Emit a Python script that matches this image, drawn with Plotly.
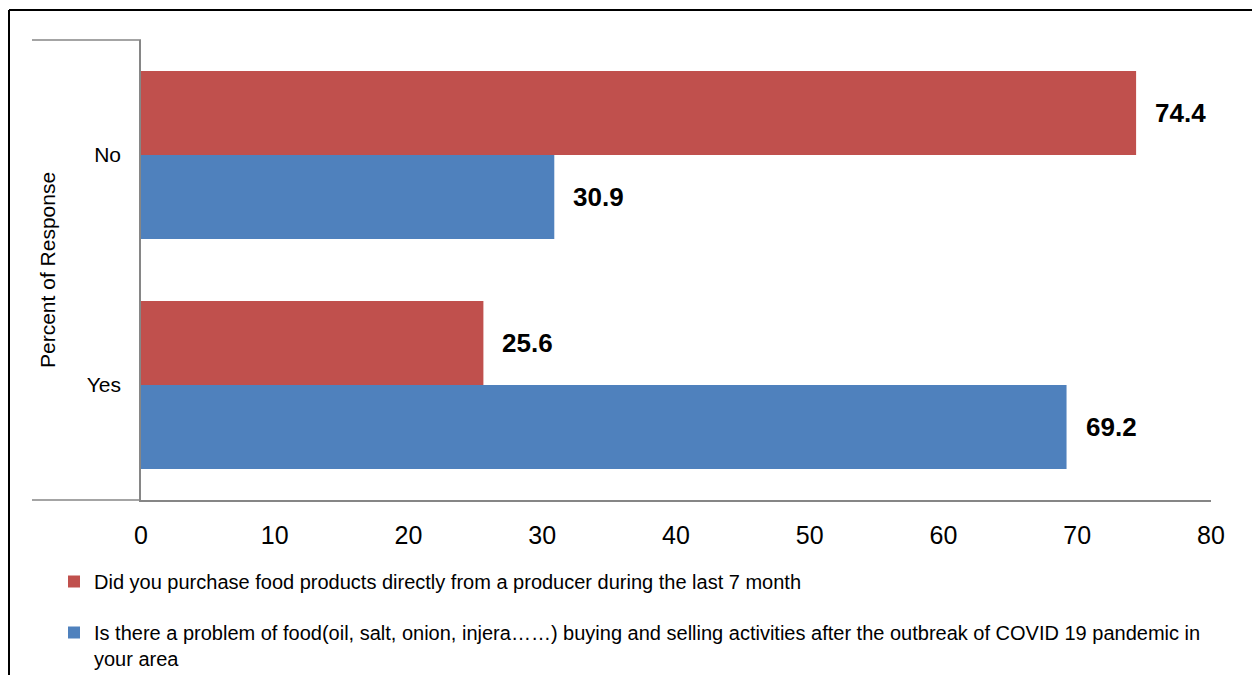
import plotly.graph_objects as go

categories = ["Yes", "No"]
series_names = [
    "Is there a problem of food(oil, salt, onion, injera……) buying and selling activities after the outbreak of COVID 19 pandemic in<br>your area",
    "Did you purchase food products directly from a producer during the last 7 month",
]
blue_values = [69.2, 30.9]
red_values = [25.6, 74.4]
x_ticks = [0, 10, 20, 30, 40, 50, 60, 70, 80]

BLUE = "#4F81BD"
RED = "#C0504D"
AXIS = "#868686"
FONT = "Liberation Sans, Arial, sans-serif"

W, H = 1252, 675
L, R, T, B = 141, 41, 40, 175
PW, PH = W - L - R, H - T - B


def px_x(p):
    return (p - L) / PW


def px_y(p):
    return (H - B - p) / PH


fig = go.Figure()
fig.add_trace(go.Bar(
    y=categories, x=blue_values, orientation="h", name=series_names[0],
    marker=dict(color=BLUE, line=dict(width=0)), legendgroup="b", legendrank=2,
))
fig.add_trace(go.Bar(
    y=categories, x=red_values, orientation="h", name=series_names[1],
    marker=dict(color=RED, line=dict(width=0)), legendgroup="r", legendrank=1,
))

annotations = []
for vals, shift in ((blue_values, -42), (red_values, 42)):
    for cat, v in zip(categories, vals):
        annotations.append(dict(
            x=v, y=cat, xref="x", yref="y", text=f"{v:.1f}", showarrow=False,
            xanchor="left", yanchor="middle", xshift=17, yshift=shift,
            font=dict(family=FONT, size=26, color="#000000", weight="bold"),
        ))
annotations.append(dict(
    x=px_x(47), y=0.5, xref="paper", yref="paper", text="Percent of Response",
    textangle=-90, showarrow=False, xanchor="center", yanchor="middle",
    font=dict(family=FONT, size=21, color="#000000"),
))

shapes = [
    dict(type="line", xref="paper", yref="paper", x0=px_x(9), x1=px_x(9), y0=px_y(10), y1=px_y(680),
         line=dict(color="#000000", width=2)),
    dict(type="line", xref="paper", yref="paper", x0=px_x(9), x1=px_x(1260), y0=px_y(10), y1=px_y(10),
         line=dict(color="#000000", width=2)),
    dict(type="line", xref="paper", yref="paper", x0=px_x(32), x1=0, y0=1, y1=1,
         line=dict(color=AXIS, width=1.5)),
    dict(type="line", xref="paper", yref="paper", x0=px_x(32), x1=0, y0=0, y1=0,
         line=dict(color=AXIS, width=1.5)),
]

fig.update_layout(
    width=W, height=H,
    margin=dict(l=L, r=R, t=T, b=B, pad=0, autoexpand=False),
    paper_bgcolor="white", plot_bgcolor="white",
    barmode="group", bargap=0.27, bargroupgap=0,
    showlegend=True,
    legend=dict(
        orientation="v", x=px_x(54), y=px_y(562), xanchor="left", yanchor="top",
        traceorder="grouped", tracegroupgap=22, valign="top",
        font=dict(family=FONT, size=20, color="#000000"),
        itemwidth=30, bgcolor="rgba(0,0,0,0)",
    ),
    xaxis=dict(
        range=[0, 80], tickvals=x_ticks, ticktext=[str(t) for t in x_ticks],
        showgrid=False, zeroline=False, showline=True, linecolor=AXIS, linewidth=1.5,
        ticks="", ticklabelstandoff=12,
        tickfont=dict(family=FONT, size=25, color="#000000"),
    ),
    yaxis=dict(
        categoryorder="array", categoryarray=categories,
        showgrid=False, zeroline=False, showline=True, linecolor=AXIS, linewidth=1.5,
        ticks="", ticklabelstandoff=14,
        tickfont=dict(family=FONT, size=21, color="#000000"),
    ),
    annotations=annotations,
    shapes=shapes,
)

fig.write_html(
    "out.html",
    config={"displayModeBar": False},
    post_script="document.body.style.margin='0';document.body.style.overflow='hidden';",
)
